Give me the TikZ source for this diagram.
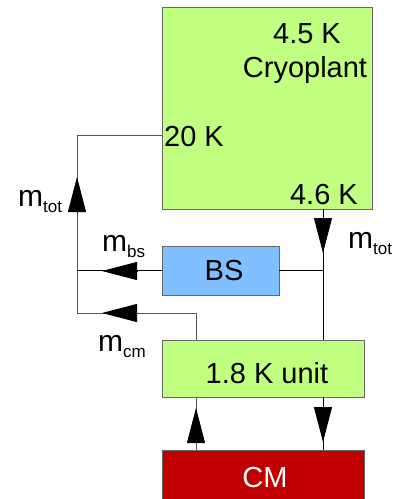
\documentclass[tikz,border=0pt]{standalone}
\usepackage{fontspec}
\setmainfont{Liberation Sans}
\usetikzlibrary{arrows.meta}
\definecolor{cryogreen}{HTML}{C0FF80}
\definecolor{bsblue}{HTML}{80C0FF}
\definecolor{cmred}{HTML}{C00000}
\definecolor{edgegray}{HTML}{666666}
\definecolor{wiregray}{HTML}{555555}
\newcommand{\bigtxt}{\fontsize{29}{33}\selectfont}
\newcommand{\flowlab}[1]{{\fontsize{30}{33}\selectfont m}\raisebox{-6pt}{\fontsize{17}{19}\selectfont #1}}
\tikzset{
  box/.style={draw=edgegray, line width=0.8pt, rectangle, inner sep=0pt},
  txt/.style={inner sep=0pt, font=\bigtxt},
  wire/.style={draw=wiregray, line width=0.9pt},
  bwire/.style={draw=black, line width=0.9pt},
  tri/.style={-{Triangle[length=35pt,width=18pt]}, line width=0.9pt, black},
}
\begin{document}
\begin{tikzpicture}[x=1pt,y=-1pt]
\clip (0,0) rectangle (395,499);
\fill[white] (0,0) rectangle (395,499);
% boxes
\node[box, fill=cryogreen, minimum width=210pt, minimum height=202pt] (cryo) at (267,108) {};
\node[box, fill=bsblue, minimum width=117pt, minimum height=49pt] (bs) at (220.5,270.5) {};
\node[box, fill=cryogreen, minimum width=202pt, minimum height=57pt] (unit) at (263,368.5) {};
\node[box, fill=cmred, minimum width=202pt, minimum height=70pt] (cm) at (263,485) {};
% texts
\node[txt, anchor=base] (t45) at (307,43) {4.5 K};
\node[txt, anchor=base] (tcryo) at (305,77) {Cryoplant};
\node[txt, anchor=base west] (t20) at (164,146) {20 K};
\node[txt, anchor=base east] (t46) at (358,204) {4.6 K};
\node[txt, anchor=base] (tbs) at (224,280) {BS};
\node[txt, anchor=base] (tunit) at (267,383) {1.8 K unit};
\node[txt, anchor=base, text=white] (tcm) at (265,487) {CM};
% flow labels
\node[inner sep=0pt, anchor=base west] (mtotr) at (348,248) {\flowlab{tot}};
\node[inner sep=0pt, anchor=base west] (mtotl) at (18,206) {\flowlab{tot}};
\node[inner sep=0pt, anchor=base west] (mbs) at (102,251) {\flowlab{bs}};
\node[inner sep=0pt, anchor=base west] (mcm) at (98,351) {\flowlab{cm}};
% coordinates
\coordinate (l20) at (77,135);
\coordinate (lcm) at (77,313);
\coordinate (ccm) at (196,313);
\coordinate (jr) at (323,271);
% connectors
\draw[wire] (l20 -| cryo.west) -- (l20) -- (lcm) -- (ccm) -- (ccm |- unit.north);
\draw[bwire] (bs.west) -- (bs.west -| l20);
\draw[bwire] (jr |- cryo.south) -- (jr |- unit.north);
\draw[bwire] (bs.east) -- (bs.east -| jr);
\draw[wire] (ccm |- unit.south) -- (ccm |- cm.north);
\draw[bwire] (jr |- unit.south) -- (jr |- cm.north);
% arrowheads
\draw[tri] (77,212) -- (77,177);
\draw[tri] (137,271) -- (102,271);
\draw[tri] (137,313) -- (102,313);
\draw[tri] (323,219) -- (323,253);
\draw[tri] (196,442) -- (196,408);
\draw[tri] (323,408) -- (323,442);
\end{tikzpicture}
\end{document}
